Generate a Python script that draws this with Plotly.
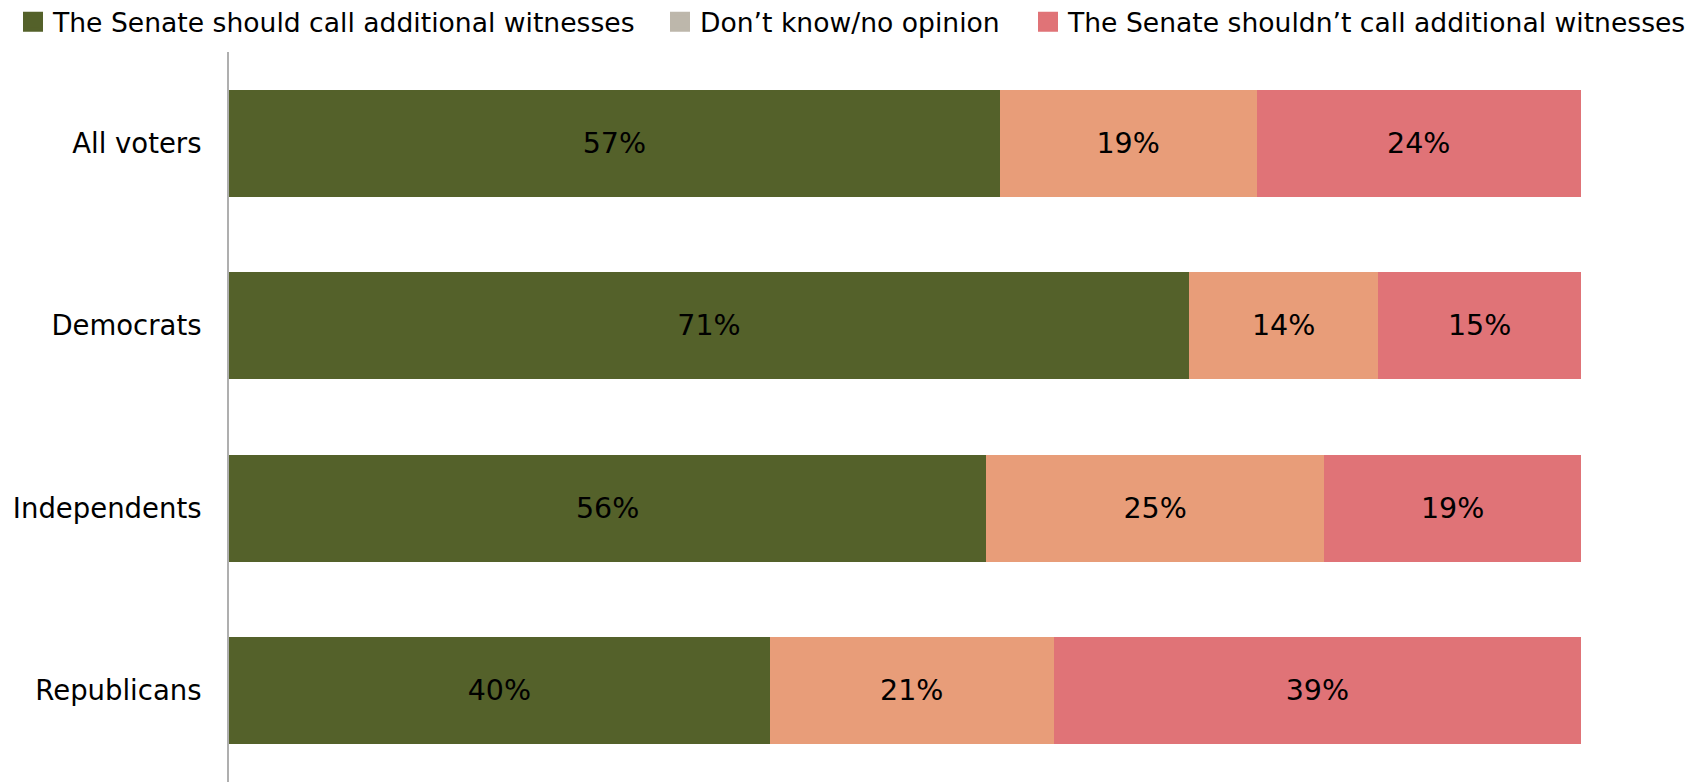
import plotly.graph_objects as go

categories = ["All voters", "Democrats", "Independents", "Republicans"]
should_call = [57, 71, 56, 40]
dont_know = [19, 14, 25, 21]
shouldnt_call = [24, 15, 19, 39]

series_names = [
    "The Senate should call additional witnesses",
    "Don\u2019t know/no opinion",
    "The Senate shouldn\u2019t call additional witnesses",
]
bar_colors = ["#54612A", "#E89D79", "#E07377"]
legend_colors = ["#54612A", "#BDB7AB", "#E07377"]
legend_x_px = [5, 652, 1020]

FONT = "DejaVu Sans, Verdana, sans-serif"
# page has an 8px body margin, so the figure is sized to fill the rest
W, H = 1688, 774

fig = go.Figure()
for name, vals, col in zip(series_names, [should_call, dont_know, shouldnt_call], bar_colors):
    fig.add_trace(go.Bar(
        y=categories, x=vals, orientation="h", name=name,
        marker=dict(color=col, line=dict(width=0)),
        text=[f"{v}%" for v in vals], textposition="inside",
        insidetextanchor="middle",
        textfont=dict(family=FONT, size=28.5, color="#000000"),
        showlegend=False, width=0.586, hoverinfo="skip",
    ))

legend_keys = ["legend", "legend2", "legend3"]
for name, col, lk in zip(series_names, legend_colors, legend_keys):
    fig.add_trace(go.Scatter(
        x=[None], y=[None], mode="markers", name=name,
        marker=dict(symbol="square", size=16, color=col,
                    line=dict(width=4, color=col)),
        showlegend=True, legend=lk,
    ))

legend_common = dict(
    orientation="h", xref="container", yref="container",
    y=1 - 14 / H, xanchor="left", yanchor="middle",
    font=dict(family=FONT, size=26.6, color="#000000"),
    itemsizing="trace", bgcolor="rgba(0,0,0,0)", borderwidth=0,
)

fig.update_layout(
    width=W, height=H,
    barmode="stack",
    plot_bgcolor="white", paper_bgcolor="white",
    margin=dict(l=221, r=115, t=44, b=0, pad=0, autoexpand=False),
    font=dict(family=FONT, size=27, color="#000000"),
    legend=dict(x=legend_x_px[0] / W, **legend_common),
    legend2=dict(x=legend_x_px[1] / W, **legend_common),
    legend3=dict(x=legend_x_px[2] / W, **legend_common),
    xaxis=dict(range=[0, 100], visible=False, fixedrange=True),
    yaxis=dict(
        categoryorder="array", categoryarray=categories,
        autorange="reversed",
        showline=True, linecolor="#AFAFAF", linewidth=2,
        showgrid=False, zeroline=False, ticks="",
        ticklabelstandoff=20,
        tickfont=dict(family=FONT, size=27.5, color="#000000"),
    ),
)

fig.write_html("out.html")
